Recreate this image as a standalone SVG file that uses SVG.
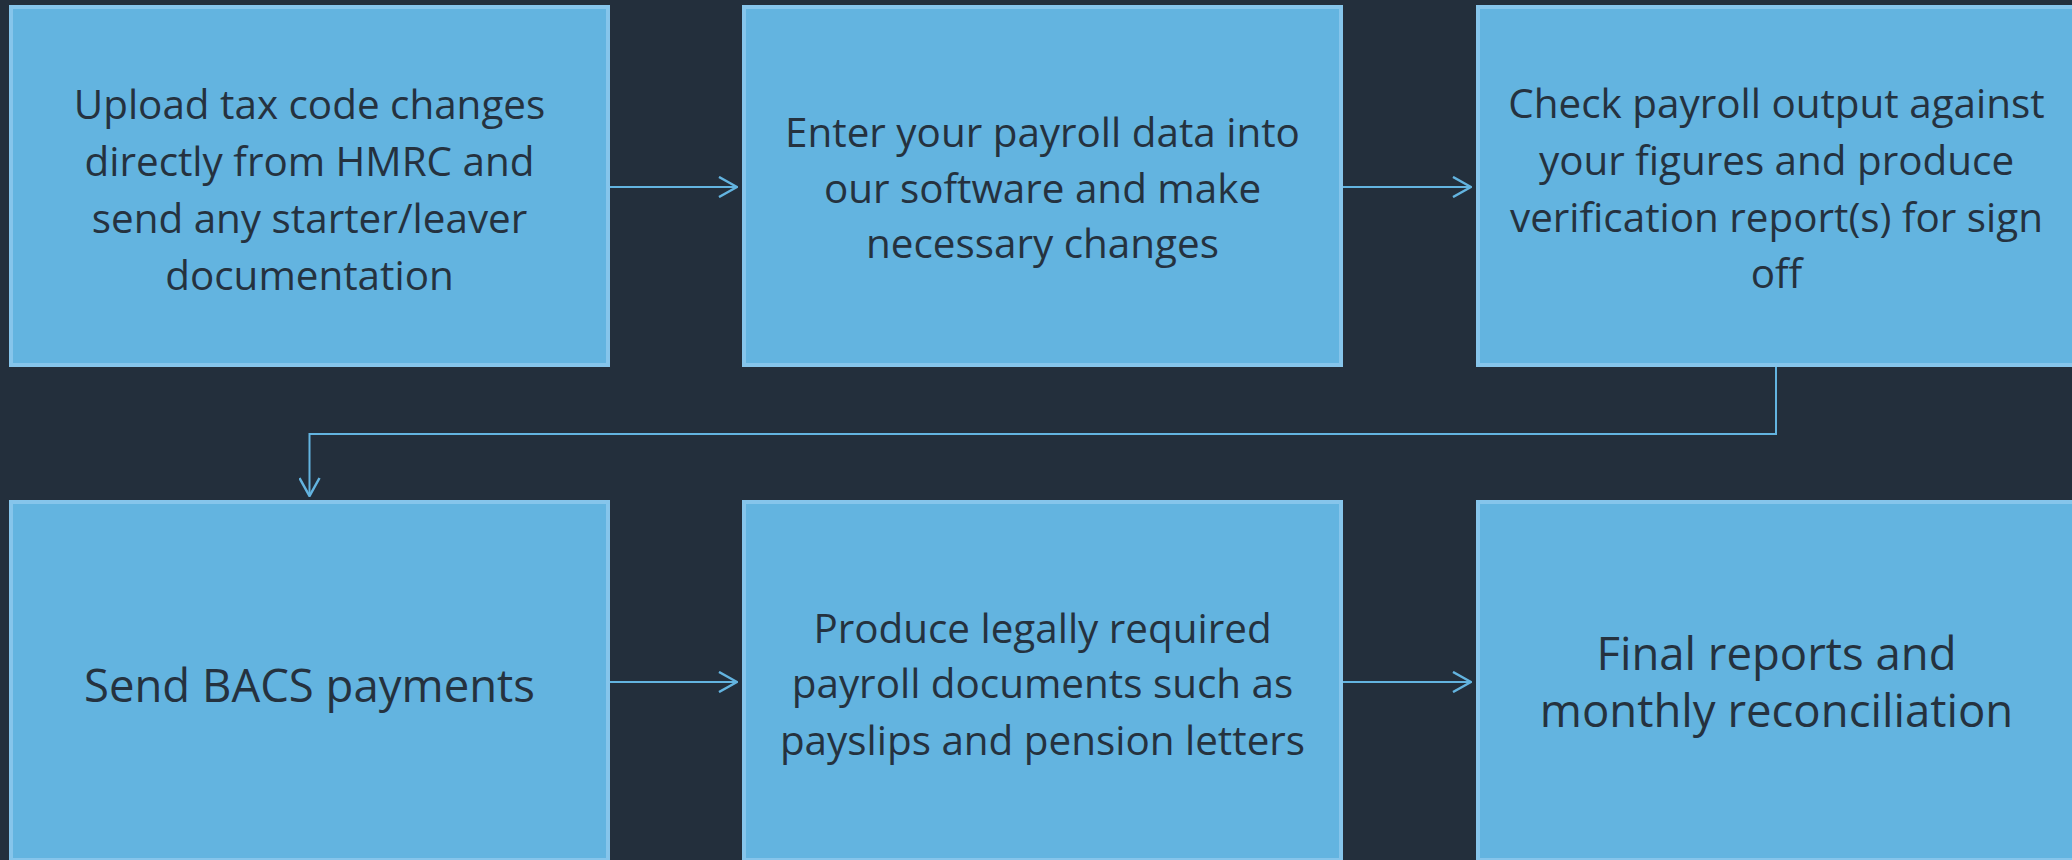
<svg xmlns="http://www.w3.org/2000/svg" width="2072" height="860" viewBox="0 0 2072 860">
  <style>
    .bg { fill: #232f3c; }
    .box { fill: #63b4e0; stroke: #86c5eb; stroke-width: 4; }
    .t { font-family: "Open Sans", "Noto Sans", "Liberation Sans", sans-serif; font-size: 40.4px; fill: #25323f; text-anchor: middle; }
    .tl { font-size: 45.5px; }
    .conn { fill: none; stroke: #63b4e0; stroke-width: 2; }
  </style>
  <defs>
    <marker id="arrow" viewBox="0 0 20 22" refX="19" refY="11" markerWidth="20" markerHeight="22" markerUnits="userSpaceOnUse" orient="auto">
      <path d="M1,1 L19,11 L1,21" fill="none" stroke="#63b4e0" stroke-width="2.5"/>
    </marker>
  </defs>
  <rect class="bg" x="0" y="0" width="2072" height="860"/>

  <g id="connectors">
    <line class="conn" x1="610" y1="187" x2="737" y2="187" marker-end="url(#arrow)"/>
    <line class="conn" x1="1343" y1="187" x2="1471" y2="187" marker-end="url(#arrow)"/>
    <polyline class="conn" points="1776,367 1776,434 309.5,434 309.5,496" marker-end="url(#arrow)"/>
    <line class="conn" x1="610" y1="682" x2="737" y2="682" marker-end="url(#arrow)"/>
    <line class="conn" x1="1343" y1="682" x2="1471" y2="682" marker-end="url(#arrow)"/>
  </g>

  <g id="node1">
    <rect class="box" x="11" y="7" width="597" height="358"/>
    <text class="t" x="309.5" y="119">Upload tax code changes</text>
    <text class="t" x="309.5" y="176">directly from HMRC and</text>
    <text class="t" x="309.5" y="233">send any starter/leaver</text>
    <text class="t" x="309.5" y="290">documentation</text>
  </g>
  <g id="node2">
    <rect class="box" x="744" y="7" width="597" height="358"/>
    <text class="t" x="1042.5" y="147">Enter your payroll data into</text>
    <text class="t" x="1042.5" y="203">our software and make</text>
    <text class="t" x="1042.5" y="258">necessary changes</text>
  </g>
  <g id="node3">
    <rect class="box" x="1478" y="7" width="597" height="358"/>
    <text class="t" x="1776.5" y="118">Check payroll output against</text>
    <text class="t" x="1776.5" y="175">your figures and produce</text>
    <text class="t" x="1776.5" y="232">verification report(s) for sign</text>
    <text class="t" x="1776.5" y="288">off</text>
  </g>
  <g id="node4">
    <rect class="box" x="11" y="502" width="597" height="358"/>
    <text class="t tl" x="309.5" y="702">Send BACS payments</text>
  </g>
  <g id="node5">
    <rect class="box" x="744" y="502" width="597" height="358"/>
    <text class="t" x="1042.5" y="643">Produce legally required</text>
    <text class="t" x="1042.5" y="698">payroll documents such as</text>
    <text class="t" x="1042.5" y="755">payslips and pension letters</text>
  </g>
  <g id="node6">
    <rect class="box" x="1478" y="502" width="597" height="358"/>
    <text class="t tl" x="1776.5" y="670">Final reports and</text>
    <text class="t tl" x="1776.5" y="727">monthly reconciliation</text>
  </g>
</svg>
